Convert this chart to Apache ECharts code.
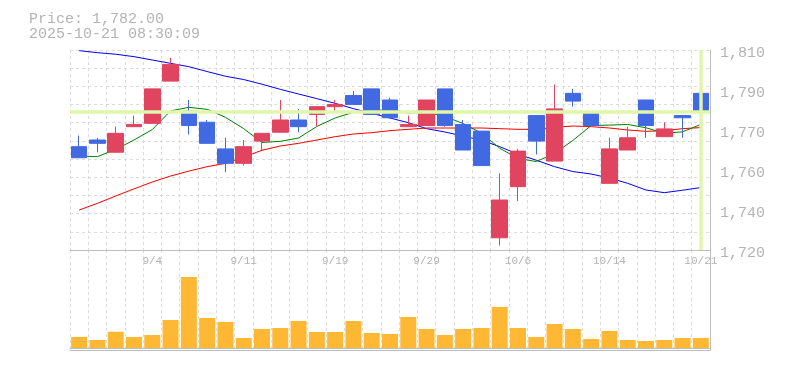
<!DOCTYPE html>
<html>
<head>
<meta charset="utf-8">
<script src="https://cdn.jsdelivr.net/npm/echarts@6/dist/echarts.min.js"></script>
<style>
html,body{margin:0;padding:0;background:#fff;}
#chart{width:785px;height:370px;}
</style>
</head>
<body>
<div id="chart"></div>
<script>
const categories = ['8/29','9/1','9/2','9/3','9/4','9/5','9/8','9/9','9/10','9/11',
  '9/12','9/16','9/17','9/18','9/19','9/22','9/24','9/25','9/26','9/29',
  '9/30','10/1','10/2','10/3','10/6','10/7','10/8','10/9','10/10','10/14',
  '10/15','10/16','10/17','10/20','10/21'];
const opens  = [1766.5,1769.5,1764,1775.5,1777,1796,1782.5,1777.5,1765.5,1759,
  1769,1773,1778.5,1781,1784.5,1789.5,1792.5,1787.5,1775.5,1776,
  1792.5,1776.5,1773.5,1725.5,1748.5,1780.5,1760,1790.5,1781.5,1750,
  1765,1787.5,1771,1780.5,1790.5];
const closes = [1761.5,1768,1772.5,1776.5,1792.5,1803.5,1776,1768,1759,1766.5,
  1772.5,1778.5,1775.5,1784.5,1785.5,1785.5,1781,1779.5,1776.5,1787.5,
  1776,1765,1758,1742.5,1764.5,1769,1783.5,1787,1776,1765.5,
  1770.5,1776,1774.5,1779.5,1782];
const lows   = [1761.5,1764,1764,1775.5,1777,1796,1772,1768,1755,1758,
  1765,1773,1773,1775.5,1782,1785.5,1781,1779.5,1775.5,1776,
  1775.5,1765,1758,1722,1742,1763,1760,1784.5,1776,1750,
  1765,1770.5,1771,1770.5,1771.5];
const highs  = [1771.5,1770.5,1775.5,1780.5,1792.5,1806.5,1787.5,1778.5,1770.5,1769.5,
  1772.5,1787.5,1783.5,1784.5,1787.5,1791.5,1792.5,1788.5,1780.5,1787.5,
  1792.5,1778.5,1773.5,1754.5,1765.5,1780.5,1794.5,1792.5,1782.5,1770.5,
  1775.5,1787.5,1777.5,1780.5,1791.5];
const ma5  = [1762.3,1762.0,1765.3,1769.5,1774.2,1782.6,1784.2,1783.3,1779.7,1774.6,
  1768.4,1768.9,1770.4,1775.6,1779.4,1782.0,1782.5,1783.3,1781.6,1782.0,
  1780.1,1776.9,1772.6,1765.8,1761.2,1759.8,1763.5,1769.3,1776.0,1776.2,
  1776.5,1775.0,1772.5,1773.2,1776.5];
const ma25 = [1738.0,1741.0,1744.3,1747.5,1750.6,1753.3,1755.5,1757.5,1759.0,1761.8,
  1764.9,1766.8,1768.0,1769.5,1771.0,1772.2,1772.8,1773.7,1774.3,1774.9,
  1774.9,1774.9,1774.9,1774.6,1774.3,1774.3,1775.2,1775.8,1775.5,1774.9,
  1774.0,1773.4,1773.7,1774.6,1775.1];
const ma75 = [1809.7,1808.8,1808.1,1807.0,1805.5,1804.0,1802.5,1800.3,1798.2,1796.7,
  1794.6,1792.3,1790.2,1788.1,1786.0,1783.6,1781.5,1779.4,1777.3,1774.6,
  1773.1,1771.3,1769.4,1766.5,1763.1,1760.4,1757.5,1755.3,1754.2,1752.4,
  1750.0,1747.0,1745.8,1746.9,1748.1];
const volumes = [110,80,163,110,130,280,710,300,260,100,
  190,200,270,160,160,270,150,140,310,190,
  130,190,200,410,200,110,240,190,90,170,
  80,70,80,100,100];
const currentPrice = 1782;
const priceText = 'Price: 1,782.00';
const timeText = '2025-10-21 08:30:09';

const FONT = 'Liberation Mono';
const TXT = '#b4b4b4';
const GRIDC = '#dcdcdc';
const AXISC = '#bdbdbd';

const candleData = categories.map((c, i) => [opens[i], closes[i], lows[i], highs[i]]);

function fmt(v) {
  const r = Math.round((1720 + v) / 10) * 10;
  return r.toLocaleString('en-US');
}

const chart = echarts.init(document.getElementById('chart'), null, {renderer: 'canvas'});
chart.setOption({
  animation: false,
  backgroundColor: '#fff',
  title: {
    text: priceText + '\n' + timeText,
    left: 24, top: 7,
    textStyle: {fontFamily: FONT, fontSize: 15, lineHeight: 15, fontWeight: 'normal', color: TXT}
  },
  grid: [
    {left: 70, right: 75, top: 50, height: 200},
    {left: 70, right: 75, top: 250, height: 100}
  ],
  xAxis: [
    {type: 'category', gridIndex: 0, data: categories, boundaryGap: true,
     axisLine: {show: true, lineStyle: {color: AXISC}}, axisTick: {show: false}, axisLabel: {show: false},
     splitLine: {show: true, interval: 0, lineStyle: {color: GRIDC, type: [3, 3]}}},
    {type: 'category', gridIndex: 1, data: categories, boundaryGap: true, position: 'top',
     axisLine: {show: true, lineStyle: {color: AXISC}}, axisTick: {show: false},
     axisLabel: {inside: true, interval: (i) => i % 5 === 4, color: TXT, fontFamily: FONT, fontSize: 11, margin: 6},
     splitLine: {show: true, interval: 0, lineStyle: {color: GRIDC, type: [3, 3]}}},
    {type: 'category', gridIndex: 1, data: categories, boundaryGap: true, position: 'bottom',
     axisLine: {show: true, lineStyle: {color: AXISC}}, axisTick: {show: false}, axisLabel: {show: false},
     splitLine: {show: false}}
  ],
  yAxis: [
    {type: 'value', gridIndex: 0, min: 1720, max: 1810, position: 'right',
     axisLine: {show: true, lineStyle: {color: AXISC}}, axisTick: {show: false}, axisLabel: {show: false}, splitLine: {show: false}},
    {type: 'value', gridIndex: 0, min: 0, max: 11, interval: 1, position: 'right',
     axisLine: {show: false}, axisTick: {show: false}, axisLabel: {show: false},
     splitLine: {show: true, lineStyle: {color: GRIDC, type: [3, 3]}}},
    {type: 'value', gridIndex: 0, min: 0, max: 90, interval: 18, position: 'right',
     axisLine: {show: false}, axisTick: {show: false}, splitLine: {show: false},
     axisLabel: {formatter: fmt, color: TXT, fontFamily: FONT, fontSize: 15, margin: 10,
       verticalAlign: 'top', lineHeight: 6}},
    {type: 'value', gridIndex: 1, min: -20, max: 980, position: 'right',
     axisLine: {show: true, lineStyle: {color: AXISC}}, axisTick: {show: false}, axisLabel: {show: false}, splitLine: {show: false}}
  ],
  series: [
    {type: 'line', name: 'hl', xAxisIndex: 0, yAxisIndex: 0, data: [], z: 1, silent: true,
     markLine: {symbol: 'none', silent: true, animation: false, label: {show: false},
       lineStyle: {color: '#e0f6ab', width: 3.5, type: 'solid'},
       data: [{yAxis: currentPrice}, {xAxis: categories[categories.length - 1]}]}},
    {type: 'line', name: 'MA75', xAxisIndex: 0, yAxisIndex: 0, data: ma75, showSymbol: false, z: 2,
     lineStyle: {color: '#0000ff', width: 1}},
    {type: 'line', name: 'MA25', xAxisIndex: 0, yAxisIndex: 0, data: ma25, showSymbol: false, z: 2,
     lineStyle: {color: '#ff0000', width: 1}},
    {type: 'line', name: 'MA5', xAxisIndex: 0, yAxisIndex: 0, data: ma5, showSymbol: false, z: 2,
     lineStyle: {color: '#008000', width: 1}},
    {type: 'candlestick', name: 'price', xAxisIndex: 0, yAxisIndex: 0, data: candleData, z: 3,
     barWidth: 16,
     itemStyle: {color: '#e0445f', color0: '#4169e1', borderColor: '#e0445f', borderColor0: '#4169e1', borderWidth: 1}},
    {type: 'bar', name: 'volume', xAxisIndex: 1, yAxisIndex: 3, data: volumes, barWidth: 16,
     itemStyle: {color: '#ffb833'}}
  ]
});
</script>
</body>
</html>
